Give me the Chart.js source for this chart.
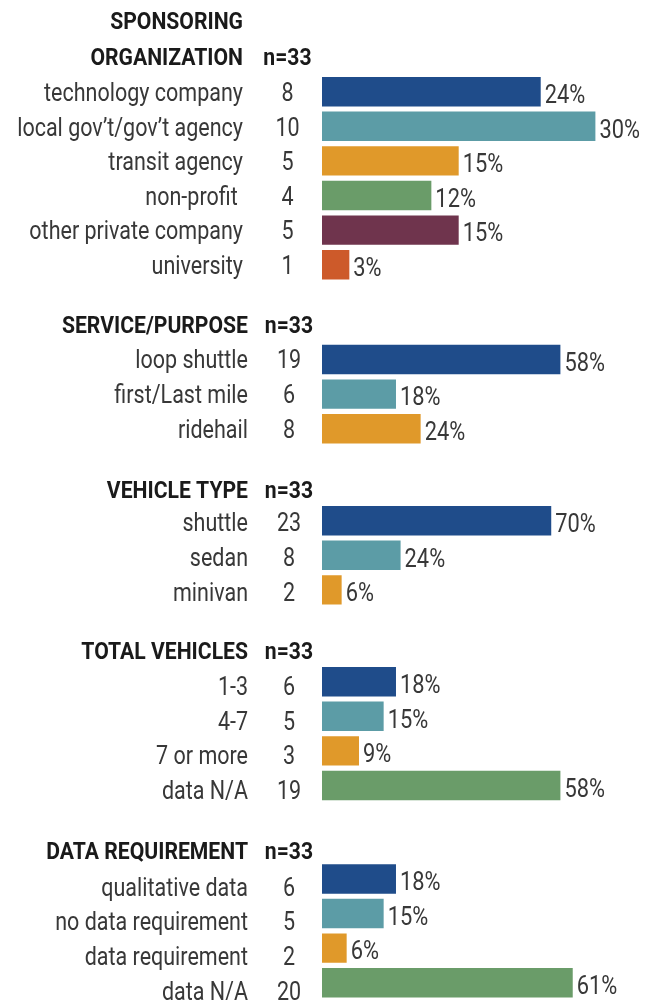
<!DOCTYPE html>
<html>
<head>
<meta charset="utf-8">
<script src="https://cdn.jsdelivr.net/npm/chart.js@4"></script>
<style>
  html, body { margin: 0; padding: 0; background: #ffffff; overflow: hidden; }
  #wrap { position: relative; width: 655px; height: 1000px; }
  #wrap canvas { position: absolute; left: 0; top: 0; }
</style>
</head>
<body>
<div id="wrap"></div>
<script>
// ---------- DATA ----------
const sampleLabel = "n=33";

const orgTitle = ["SPONSORING", "ORGANIZATION"];
const orgLabels = ["technology company", "local gov\u2019t/gov\u2019t agency", "transit agency", "non-profit ", "other private company", "university"];
const orgCounts = [8, 10, 5, 4, 5, 1];
const orgPct = [24, 30, 15, 12, 15, 3];

const serviceTitle = ["SERVICE/PURPOSE"];
const serviceLabels = ["loop shuttle", "first/Last mile", "ridehail"];
const serviceCounts = [19, 6, 8];
const servicePct = [58, 18, 24];

const vehicleTitle = ["VEHICLE TYPE"];
const vehicleLabels = ["shuttle", "sedan", "minivan"];
const vehicleCounts = [23, 8, 2];
const vehiclePct = [70, 24, 6];

const totalTitle = ["TOTAL VEHICLES"];
const totalLabels = ["1-3", "4-7", "7 or more", "data N/A"];
const totalCounts = [6, 5, 3, 19];
const totalPct = [18, 15, 9, 58];

const reqTitle = ["DATA REQUIREMENT"];
const reqLabels = ["qualitative data", "no data requirement", "data requirement", "data N/A"];
const reqCounts = [6, 5, 2, 20];
const reqPct = [18, 15, 6, 61];

// ---------- STYLE / LAYOUT ----------
const palette = ["#1f4c8a", "#5c9ca6", "#e0992a", "#6a9c69", "#6f344d", "#cd5a2a"];
const rowH = 34.6;
const plotLeft = 322, plotRight = 620;

const sections = [
  { title: orgTitle, labels: orgLabels, counts: orgCounts, pct: orgPct, xMax: 32.7,
    barY0: 91.7, textDy: 0.5, titleY: [20.5, 57], textRight: 243, countX: 287.5 },
  { title: serviceTitle, labels: serviceLabels, counts: serviceCounts, pct: servicePct, xMax: 72.5,
    barY0: 359.5, textDy: 0, titleY: [325], textRight: 248, countX: 289 },
  { title: vehicleTitle, labels: vehicleLabels, counts: vehicleCounts, pct: vehiclePct, xMax: 91,
    barY0: 520.7, textDy: 1.8, titleY: [490], textRight: 248, countX: 289 },
  { title: totalTitle, labels: totalLabels, counts: totalCounts, pct: totalPct, xMax: 72.5,
    barY0: 681.7, textDy: 4.5, titleY: [650.5], textRight: 248, countX: 289 },
  { title: reqTitle, labels: reqLabels, counts: reqCounts, pct: reqPct, xMax: 72.5,
    barY0: 879, textDy: 8, titleY: [851], textRight: 248, countX: 289 }
];

const FONT = "Roboto, 'Liberation Sans', sans-serif";
const LABEL_SIZE = 25, PCT_SIZE = 26, HEAD_SIZE = 23.5;
const LABEL_SX = 0.86, PCT_SX = 0.84, HEAD_SX = 0.9;

function drawText(ctx, txt, x, yCenter, align, size, weight, color, sx) {
  ctx.save();
  ctx.font = weight + " " + size + "px " + FONT;
  ctx.fillStyle = color;
  ctx.textAlign = align;
  ctx.textBaseline = "alphabetic";
  ctx.translate(x, yCenter + size * 0.711 / 2);
  ctx.scale(sx, 1);
  ctx.fillText(txt, 0, 0);
  ctx.restore();
}

const textPlugin = {
  id: "sectionText",
  afterDatasetsDraw(chart, args, opts) {
    const s = opts.section;
    const ctx = chart.ctx;
    s.title.forEach((t, i) => {
      drawText(ctx, t, s.textRight, s.titleY[i], "right", HEAD_SIZE, "bold", "#1a1a1a", HEAD_SX);
    });
    drawText(ctx, sampleLabel, s.countX, s.titleY[s.titleY.length - 1], "center", HEAD_SIZE, "bold", "#1a1a1a", HEAD_SX);
    const meta = chart.getDatasetMeta(0);
    meta.data.forEach((bar, i) => {
      const ty = bar.y + s.textDy;
      drawText(ctx, s.labels[i], s.textRight, ty, "right", LABEL_SIZE, "normal", "#383838", LABEL_SX);
      drawText(ctx, String(s.counts[i]), s.countX, ty, "center", LABEL_SIZE, "normal", "#383838", LABEL_SX);
      drawText(ctx, s.pct[i] + "%", bar.x + 4, bar.y + 2, "left", PCT_SIZE, "normal", "#383838", PCT_SX);
    });
  }
};

const wrap = document.getElementById("wrap");
sections.forEach((s) => {
  const cv = document.createElement("canvas");
  cv.width = 655; cv.height = 1000;
  cv.style.width = "655px"; cv.style.height = "1000px";
  wrap.appendChild(cv);
  const n = s.labels.length;
  const top = s.barY0 - rowH / 2;
  const bottom = 1000 - (top + n * rowH);
  new Chart(cv, {
    type: "bar",
    data: {
      labels: s.labels,
      datasets: [{
        data: s.pct,
        backgroundColor: palette.slice(0, n),
        borderWidth: 0,
        barPercentage: 0.85,
        categoryPercentage: 1
      }]
    },
    options: {
      indexAxis: "y",
      responsive: false,
      animation: false,
      devicePixelRatio: 1,
      layout: { padding: { left: plotLeft, right: 655 - plotRight, top: top, bottom: bottom } },
      scales: {
        x: { display: false, min: 0, max: s.xMax },
        y: { display: false, offset: true }
      },
      plugins: {
        legend: { display: false },
        tooltip: { enabled: false },
        sectionText: { section: s }
      }
    },
    plugins: [textPlugin]
  });
});
</script>
</body>
</html>
